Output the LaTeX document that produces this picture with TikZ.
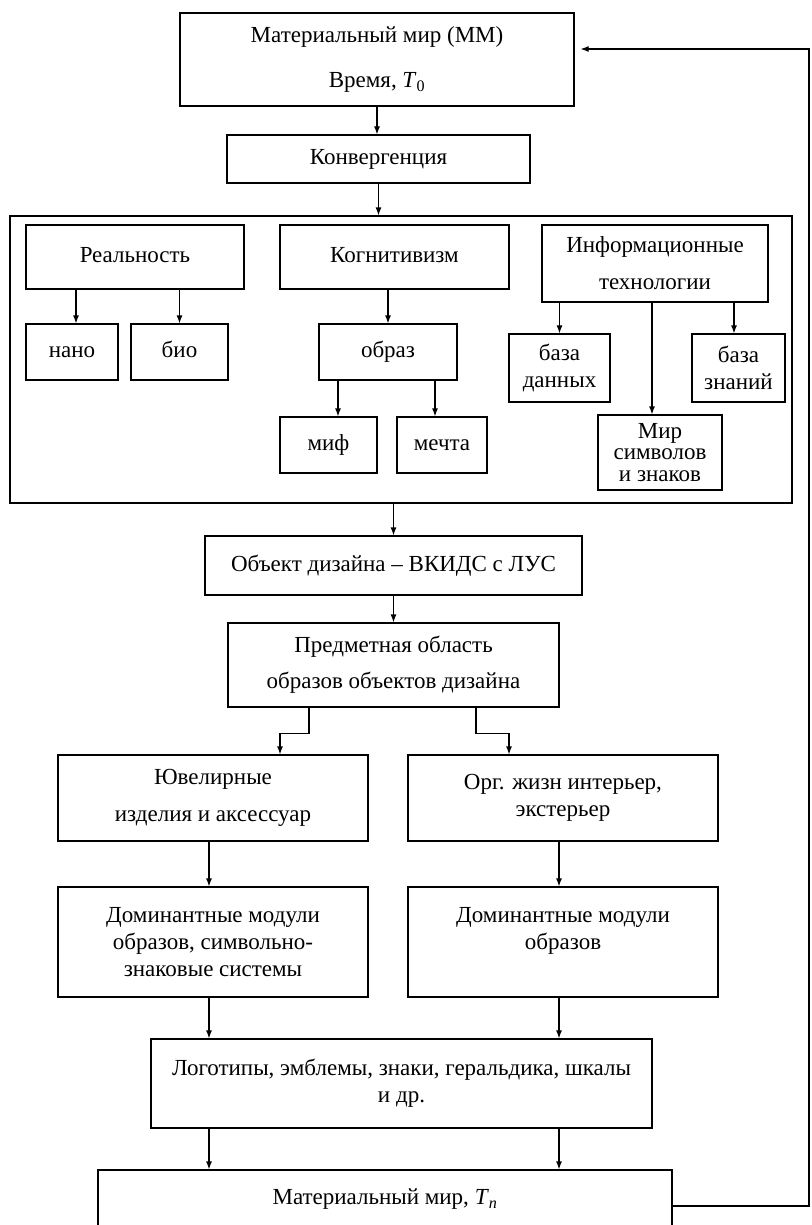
\documentclass[tikz,border=0pt]{standalone}
\usepackage{fontspec}
\setmainfont{Liberation Serif}
\usetikzlibrary{arrows.meta}

\begin{document}
\begin{tikzpicture}[x=1pt, y=-1pt, line width=1.2pt, >={Latex[length=8pt,width=6pt]},
	box/.style={draw, align=center, inner sep=0pt, font=\fontsize{23}{27}\selectfont},
	single/.style={text height=16pt, text depth=5pt}]
	\useasboundingbox (0,0) rectangle (811,1225);

	% top
	\node[box, minimum width=394pt, minimum height=93pt] (mm0) at (377,59.5) {Материальный мир (ММ)\\[18pt]Время, \textit{T}\textsubscript{0}};
	\node[box, single, minimum width=303pt, minimum height=48pt] (konv) at (378.5,159) {Конвергенция};
	\draw[->] (mm0.south) -- (mm0.south |- konv.north);

	% frame
	\node[draw, minimum width=782pt, minimum height=287pt] (frame) at (401,359.5) {};
	\draw[->] (konv.south) -- (konv.south |- frame.north);

	% reality
	\node[box, single, minimum width=218pt, minimum height=64pt] (real) at (135,257) {Реальность};
	\node[box, single, minimum width=92pt, minimum height=56pt] (nano) at (72,352) {нано};
	\node[box, single, minimum width=97pt, minimum height=56pt] (bio) at (179.5,352) {био};
	\draw[->] ([xshift=4pt]nano.north |- real.south) -- ([xshift=4pt]nano.north);
	\draw[->] (bio.north |- real.south) -- (bio.north);

	% cognitivism
	\node[box, single, minimum width=229pt, minimum height=64pt] (kogn) at (394.5,257) {Когнитивизм};
	\node[box, single, minimum width=138pt, minimum height=56pt] (obraz) at (388,352) {образ};
	\node[box, single, minimum width=97pt, minimum height=56pt] (mif) at (328.5,445) {миф};
	\node[box, single, minimum width=90pt, minimum height=56pt] (mechta) at (442,445) {мечта};
	\draw[->] (obraz.north |- kogn.south) -- (obraz.north);
	\draw[->] ([xshift=9.5pt]mif.north |- obraz.south) -- ([xshift=9.5pt]mif.north);
	\draw[->] ([xshift=-7pt]mechta.north |- obraz.south) -- ([xshift=-7pt]mechta.north);

	% information technologies
	\node[box, minimum width=226pt, minimum height=77pt] (it) at (655,263.5) {Информационные\\[10pt]технологии};
	\node[box, minimum width=101pt, minimum height=68pt] (bd) at (559.5,368) {база\\данных};
	\node[box, minimum width=93pt, minimum height=68pt] (bz) at (738.5,368) {база\\знаний};
	\node[box, minimum width=124pt, minimum height=75pt] (mir) at (660,452.5) {Мир\\[-5.5pt]символов\\[-5.5pt]и знаков};
	\draw[->] (bd.north |- it.south) -- (bd.north);
	\draw[->] ([xshift=-4.5pt]bz.north |- it.south) -- ([xshift=-4.5pt]bz.north);
	\draw[->] ([xshift=-8pt]mir.north |- it.south) -- ([xshift=-8pt]mir.north);

	% design object
	\node[box, single, minimum width=377pt, minimum height=59pt] (obj) at (393.5,565.5) {Объект дизайна -- ВКИДС с ЛУС};
	\draw[->] (obj.north |- frame.south) -- (obj.north);
	\node[box, minimum width=331pt, minimum height=84pt] (pred) at (393.5,665) {Предметная область\\[9pt]образов объектов дизайна};
	\draw[->] (obj.south) -- (obj.south |- pred.north);

	% two branches
	\node[box, minimum width=310pt, minimum height=86pt] (juv) at (213,798) {Ювелирные\\[10pt]изделия и аксессуар};
	\node[box, minimum width=310pt, minimum height=86pt] (org) at (563,798) {Орг. жизн интерьер,\\экстерьер};
	\draw[->] ([xshift=-84.5pt]pred.south) -- ++(0,26) -| ([xshift=67pt]juv.north);
	\draw[->] ([xshift=82.5pt]pred.south) -- ++(0,26) -| ([xshift=-54pt]org.north);

	\node[box, minimum width=310pt, minimum height=110pt] (dom1) at (213,942) {Доминантные модули\\образов, символьно-\\знаковые системы};
	\node[box, minimum width=310pt, minimum height=110pt] (dom2) at (563,942) {Доминантные модули\\образов\\\mbox{}};
	\draw[->] ([xshift=-4pt]juv.south) -- ([xshift=-4pt]dom1.north);
	\draw[->] ([xshift=-4pt]org.south) -- ([xshift=-4pt]dom2.north);

	% logos
	\node[box, minimum width=501pt, minimum height=89pt] (logo) at (401.5,1083.5) {Логотипы, эмблемы, знаки, геральдика, шкалы\\и др.};
	\draw[->] ([xshift=-4pt]dom1.south) -- ([xshift=-4pt]dom1.south |- logo.north);
	\draw[->] ([xshift=-4pt]dom2.south) -- ([xshift=-4pt]dom2.south |- logo.north);

	% bottom
	\node[box, single, minimum width=574pt, minimum height=58pt] (mmn) at (385,1199) {Материальный мир, \textit{T}\textsubscript{\textit{n}}};
	\draw[->] ([xshift=-4pt]dom1.south |- logo.south) -- ([xshift=-4pt]dom1.south |- mmn.north);
	\draw[->] ([xshift=-4pt]dom2.south |- logo.south) -- ([xshift=-4pt]dom2.south |- mmn.north);

	% feedback
	\coordinate (fbbot) at (809,1206);
	\coordinate (fbtop) at (809,49);
	\draw[->] ([yshift=-7pt]mmn.east) -- (fbbot) -- (fbtop) -- ([xshift=6pt,yshift=10.5pt]mm0.east);
\end{tikzpicture}
\end{document}
